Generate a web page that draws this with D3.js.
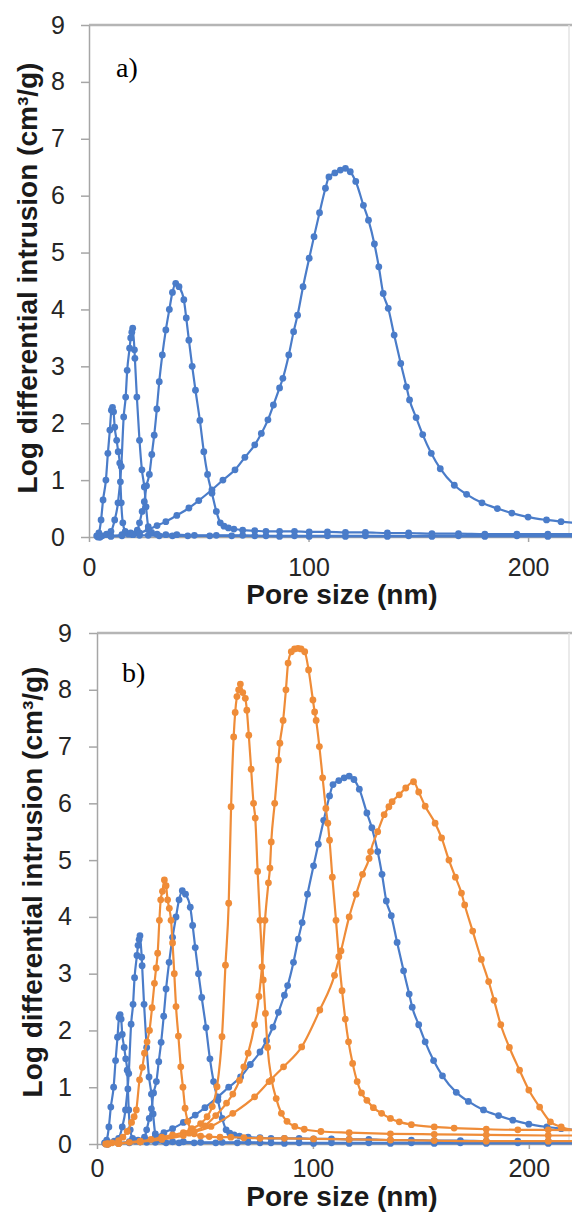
<!DOCTYPE html>
<html>
<head>
<meta charset="utf-8">
<script src="https://cdn.jsdelivr.net/npm/d3@7"></script>
<style>
  body { margin: 0; background: #fff; }
  svg { display: block; }
  .tick text { font-family: "Liberation Sans", Arial, sans-serif; font-size: 25px; fill: #262626; }
  .ytitle, .xtitle { font-family: "Liberation Sans", Arial, sans-serif; font-size: 28px; font-weight: bold; fill: #1a1a1a; }
  .plabel { font-family: "Liberation Serif", "Times New Roman", serif; font-size: 28px; fill: #000; }
</style>
</head>
<body>
<svg width="572" height="1216"></svg>
<script>
// pore size (nm) and log differential intrusion (cm3/g)

// blue series (both panels)
const sizeB1 = [3.5, 4.5, 5.5, 6.4, 7.7, 8.6, 9.5, 10.2, 10.7, 11.2, 11.7, 12.6, 13.3, 14.0, 14.3, 14.7, 15.4, 16.5, 18, 20, 23, 27, 32, 38, 45, 55, 65, 75.5, 86.8, 100.3, 116.8, 135.9, 156.2, 180.3, 209, 224];
const valB1  = [0.02, 0.07, 0.3, 0.65, 1.0, 1.47, 1.88, 2.23, 2.28, 2.2, 1.93, 1.7, 1.5, 1.3, 0.97, 0.6, 0.25, 0.1, 0.05, 0.04, 0.03, 0.03, 0.02, 0.02, 0.02, 0.02, 0.02, 0.02, 0.01, 0.01, 0.01, 0.01, 0.01, 0.01, 0.01, 0.01];

const sizeB2 = [4, 6, 8, 10, 11.7, 13.2, 14.7, 15.8, 16.7, 17.4, 18.5, 19.0, 19.5, 19.9, 20.7, 20.9, 21.8, 23.0, 24.1, 25.2, 26.0, 27.0, 28.5, 31, 35, 40, 48, 58, 70, 80.6, 93.6, 108.6, 125.9, 145.6, 168.3, 194.9, 224];
const valB2  = [0, 0.02, 0.05, 0.1, 0.3, 0.6, 1.24, 2.11, 2.46, 2.93, 3.32, 3.5, 3.6, 3.67, 3.29, 3.14, 2.46, 1.7, 1.18, 0.88, 0.53, 0.18, 0.08, 0.05, 0.04, 0.04, 0.03, 0.03, 0.03, 0.02, 0.02, 0.02, 0.02, 0.02, 0.02, 0.02, 0.02];

const sizeB3 = [5, 10, 15, 19, 22, 23, 24.2, 25.2, 26.2, 27.5, 28.6, 29.7, 30.9, 32, 33.4, 35, 36.6, 38, 39.5, 41, 43.2, 44.3, 45.5, 47, 48.5, 50.5, 52.3, 54, 56, 58, 59.8, 61.5, 63.5, 66, 70, 75.5, 80.6, 86.8, 93.6, 100.3, 108.6, 116.8, 125.9, 135.9, 145.6, 156.2, 168.3, 180.3, 194.9, 209, 224];
const valB3  = [0, 0.02, 0.04, 0.07, 0.12, 0.25, 0.45, 0.62, 0.9, 1.1, 1.45, 1.79, 2.25, 2.73, 3.2, 3.64, 4.0, 4.3, 4.46, 4.4, 4.17, 3.85, 3.46, 3.0, 2.58, 2.05, 1.5, 1.1, 0.77, 0.45, 0.25, 0.19, 0.16, 0.14, 0.12, 0.11, 0.1, 0.1, 0.1, 0.09, 0.09, 0.08, 0.08, 0.07, 0.07, 0.06, 0.06, 0.05, 0.05, 0.05, 0.05];

const sizeB4 = [5, 10, 15, 20, 23, 27, 31, 35, 40, 45.5, 50, 56, 61, 66.5, 71, 75.5, 78.5, 81.5, 84, 86.8, 88.3, 91, 93.2, 95, 97.5, 100.3, 102.5, 105, 107.7, 109.3, 112, 114.5, 116.8, 119, 121.5, 125, 127.3, 130, 132, 134, 136.3, 139, 142, 144.6, 146, 149, 152, 155.9, 160, 166.4, 172, 179, 186, 192.6, 200, 208.4, 215, 224];
const valB4  = [0, 0.01, 0.02, 0.04, 0.07, 0.13, 0.2, 0.27, 0.38, 0.51, 0.64, 0.83, 1.0, 1.18, 1.4, 1.62, 1.82, 2.06, 2.32, 2.62, 2.79, 3.2, 3.61, 3.9, 4.4, 4.9, 5.28, 5.7, 6.13, 6.33, 6.4, 6.45, 6.48, 6.42, 6.25, 5.83, 5.57, 5.15, 4.75, 4.28, 4.02, 3.55, 3.05, 2.64, 2.41, 2.1, 1.8, 1.47, 1.2, 0.91, 0.75, 0.6, 0.5, 0.42, 0.35, 0.3, 0.27, 0.24];

// orange series (panel b only)
const sizeO1 = [4, 7, 10, 12, 14, 16, 17.2, 18.2, 19.7, 21, 22, 23.2, 24.3, 25.5, 26.6, 27.4, 28.1, 28.9, 29.5, 30.3, 31.2, 32, 32.7, 33.5, 34.3, 35, 35.8, 36.6, 37.7, 38.8, 39.8, 40.8, 42, 43.5, 45, 48, 52, 57, 62, 68, 75.5, 86.8, 100.3, 116.8, 135.9, 156.2, 180.3, 209, 224];
const valO1  = [0, 0.02, 0.06, 0.12, 0.22, 0.38, 0.48, 0.6, 1.13, 1.35, 1.6, 1.8, 2.0, 2.4, 2.83, 3.1, 3.36, 3.94, 4.3, 4.45, 4.65, 4.55, 4.3, 4.15, 3.94, 3.54, 3.0, 2.42, 1.9, 1.36, 1.0, 0.63, 0.4, 0.25, 0.18, 0.14, 0.13, 0.12, 0.12, 0.11, 0.1, 0.1, 0.09, 0.08, 0.07, 0.06, 0.05, 0.05, 0.05];

const sizeO2 = [5, 10, 15, 20, 25, 30, 35, 40, 44, 48, 51, 53.4, 55.6, 57.9, 59.5, 61, 62.1, 63.3, 64, 64.8, 65.6, 66.4, 67.5, 68.7, 69.4, 70.3, 71.4, 72.5, 73.3, 74.4, 75.5, 77, 78, 79, 80.9, 83, 85.4, 88, 91.6, 96, 103.7, 116.8, 135.9, 156.2, 180.3, 209, 224];
const valO2  = [0, 0.01, 0.03, 0.05, 0.08, 0.12, 0.16, 0.2, 0.27, 0.36, 0.48, 0.66, 1.01, 1.89, 3.15, 4.24, 5.94, 7.17, 7.6, 7.88, 8.0, 8.1, 7.95, 7.85, 7.64, 7.2, 6.6, 6.0, 5.74, 4.8, 3.94, 2.89, 2.3, 1.7, 1.13, 0.8, 0.54, 0.4, 0.31, 0.26, 0.22, 0.2, 0.18, 0.17, 0.16, 0.15, 0.15];

const sizeO3 = [5, 10, 20, 30, 40, 45, 50, 55, 60, 62.9, 66, 68, 70, 73, 75, 76.4, 77.8, 79.4, 80.1, 80.7, 82.3, 84, 84.7, 86.2, 87.5, 88.5, 90, 91.5, 93.1, 94.5, 96.2, 98, 100, 100.8, 101.5, 103, 104.5, 106, 106.9, 107.7, 109, 110.7, 112, 113.5, 115, 116.5, 118.4, 120.5, 122.5, 125, 128, 131.8, 135.9, 140, 145.6, 156.2, 165.4, 180.3, 194.9, 209, 224];
const valO3  = [0, 0.01, 0.04, 0.08, 0.15, 0.22, 0.32, 0.5, 0.72, 0.88, 1.12, 1.36, 1.6, 2.1, 2.6, 3.12, 3.94, 4.6, 4.86, 5.32, 6.0, 6.76, 7.06, 7.46, 8.0, 8.47, 8.67, 8.72, 8.73, 8.72, 8.67, 8.35, 7.82, 7.61, 7.46, 7.0, 6.45, 5.91, 5.65, 5.35, 4.7, 3.94, 3.3, 2.7, 2.2, 1.8, 1.42, 1.1, 0.9, 0.77, 0.64, 0.54, 0.45, 0.39, 0.34, 0.3, 0.28, 0.26, 0.25, 0.25, 0.24];

const sizeO4 = [5, 10, 20, 30, 42.7, 52.8, 62.9, 73, 79.7, 86.4, 94.8, 103.2, 110, 113, 116.8, 120, 123, 126, 126.7, 130, 133, 135.2, 136.7, 140, 143, 146.6, 149, 152, 156.6, 159.6, 163, 166, 168.8, 170.3, 174, 178, 181.4, 183.9, 187, 191, 195.7, 200, 205, 210, 215, 224];
const valO4  = [0, 0.01, 0.04, 0.1, 0.19, 0.31, 0.54, 0.83, 1.1, 1.36, 1.71, 2.36, 2.97, 3.4, 4.0, 4.4, 4.75, 5.03, 5.15, 5.5, 5.8, 5.94, 6.03, 6.15, 6.27, 6.38, 6.2, 5.95, 5.65, 5.39, 5.0, 4.7, 4.42, 4.21, 3.75, 3.25, 2.86, 2.53, 2.1, 1.7, 1.3, 0.95, 0.65, 0.39, 0.3, 0.22];

// axis ticks and texts
const xTicks = [0, 100, 200];
const yTicks = [0, 1, 2, 3, 4, 5, 6, 7, 8, 9];
const xTitle = "Pore size (nm)";
const yTitle = "Log differential intrusion (cm³/g)";

const blue = "#4a7cc9";
const orange = "#ef8c38";

const blueSeries = [[sizeB1, valB1], [sizeB2, valB2], [sizeB3, valB3], [sizeB4, valB4]];
const orangeSeries = [[sizeO1, valO1], [sizeO2, valO2], [sizeO3, valO3], [sizeO4, valO4]];

const svg = d3.select("svg");

function drawPanel(p) {
    const x = d3.scaleLinear().domain([0, 220]).range([p.left, 572]);
    const y = d3.scaleLinear().domain([0, 9]).range([p.bottom, p.top]);
    const g = svg.append("g");

    // frame: top line at 9 and faint right edge
    g.append("line")
        .attr("x1", p.left).attr("x2", 572)
        .attr("y1", y(9)).attr("y2", y(9))
        .attr("stroke", "#b5b5b5").attr("stroke-width", 2.5);
    g.append("line")
        .attr("x1", 569).attr("x2", 569)
        .attr("y1", y(9)).attr("y2", y(0))
        .attr("stroke", "#e3e3e3").attr("stroke-width", 1.5);

    const yAxis = g.append("g")
        .attr("transform", `translate(${p.left},0)`)
        .call(d3.axisLeft(y).tickValues(yTicks).tickSize(8).tickSizeOuter(0).tickPadding(p.yPad));
    const xAxis = g.append("g")
        .attr("transform", `translate(0,${p.bottom})`)
        .call(d3.axisBottom(x).tickValues(xTicks).tickSize(5).tickSizeOuter(0).tickPadding(p.xPad));
    [yAxis, xAxis].forEach(a => {
        a.select(".domain").attr("stroke", "#a6a6a6").attr("stroke-width", 1.5);
        a.selectAll(".tick line").attr("stroke", "#a6a6a6").attr("stroke-width", 1.5);
        a.attr("font-family", null).attr("font-size", null);
    });

    const line = d3.line()
        .x(d => x(d[0]))
        .y(d => y(d[1]))
        .curve(d3.curveMonotoneX);

    p.series.forEach(s => {
        const pts = s.data[0].map((v, i) => [v, s.data[1][i]]);
        g.append("path")
            .datum(pts)
            .attr("fill", "none")
            .attr("stroke", s.color)
            .attr("stroke-width", 2.2)
            .attr("d", line);
        g.append("g").selectAll("circle")
            .data(pts.filter(d => d[0] <= 222))
            .enter().append("circle")
            .attr("cx", d => x(d[0]))
            .attr("cy", d => y(d[1]))
            .attr("r", 3.4)
            .attr("fill", s.color);
    });

    g.append("text")
        .attr("class", "xtitle")
        .attr("x", 342).attr("y", p.xTitleY)
        .attr("text-anchor", "middle")
        .text(xTitle);
    g.append("text")
        .attr("class", "ytitle")
        .attr("transform", `translate(${p.yTitleX},${p.yTitleY}) rotate(-90)`)
        .attr("text-anchor", "middle")
        .text(yTitle);
    g.append("text")
        .attr("class", "plabel")
        .attr("x", p.labelX).attr("y", p.labelY)
        .text(p.label);
}

drawPanel({
    left: 89, top: 25, bottom: 537, xPad: 16, yPad: 16,
    xTitleY: 604, yTitleX: 37, yTitleY: 278,
    label: "a)", labelX: 116, labelY: 77,
    series: blueSeries.map(d => ({data: d, color: blue}))
});

drawPanel({
    left: 97, top: 633, bottom: 1144, xPad: 10, yPad: 17,
    xTitleY: 1206, yTitleX: 42, yTitleY: 882,
    label: "b)", labelX: 122, labelY: 682,
    series: blueSeries.map(d => ({data: d, color: blue}))
        .concat(orangeSeries.map(d => ({data: d, color: orange})))
});
</script>
</body>
</html>
